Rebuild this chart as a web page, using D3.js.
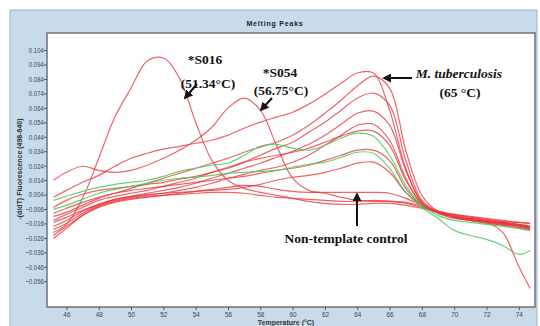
<!DOCTYPE html>
<html><head><meta charset="utf-8">
<script src="https://cdn.jsdelivr.net/npm/d3@7"></script>
<style>
html,body{margin:0;padding:0;background:#fff;}
svg{display:block;}
</style></head>
<body>
<script>
// ---- data ----
const temps = [45.2,46,47,48,49,50,51,52,53,54,55,56,57,58,59,60,61,62,63,64,65,66,67,68,69,70,71,72,73,74,74.7];
const xTicks = [46,48,50,52,54,56,58,60,62,64,66,68,70,72,74];
const yTicks = [0.104,0.094,0.084,0.074,0.064,0.054,0.044,0.034,0.024,0.014,0.004,-0.006,-0.016,-0.026,-0.036,-0.046,-0.056];

const s016 = [-0.0222,-0.0166,0.0014,0.0291,0.0576,0.0777,0.0964,0.0985,0.0846,0.0541,0.0277,0.0139,0.0083,0.0055,0.0035,0.0014,-0.0007,-0.0021,-0.0028,-0.0028,-0.0021,-0.0021,-0.0035,-0.0055,-0.0076,-0.0097,-0.0118,-0.0139,-0.0153,-0.0173,-0.0187];
const s054 = [0.0139,0.0194,0.0236,0.0208,0.0194,0.0208,0.0243,0.0291,0.0347,0.0416,0.0506,0.0638,0.0707,0.0624,0.0381,0.0153,0.0069,0.0049,0.0021,0,-0.0007,-0.0007,-0.0014,-0.0042,-0.0076,-0.0097,-0.0111,-0.0125,-0.0139,-0.0153,-0.0160];
const mtbA = [0.0021,0.0069,0.0125,0.0173,0.0236,0.0291,0.0326,0.0354,0.0374,0.0395,0.0416,0.0451,0.0499,0.0541,0.0576,0.0610,0.0666,0.0735,0.0811,0.0881,0.0881,0.0624,0.0222,-0.0014,-0.0083,-0.0111,-0.0125,-0.0139,-0.0153,-0.0166,-0.0180];
const mtbB = [-0.0111,-0.0083,-0.0035,0.0014,0.0049,0.0083,0.0118,0.0153,0.0187,0.0222,0.0257,0.0291,0.0333,0.0368,0.0402,0.0451,0.0520,0.0603,0.0693,0.0791,0.0860,0.0777,0.0347,0.0035,-0.0076,-0.0104,-0.0118,-0.0132,-0.0146,-0.0153,-0.0160];
const mtbC = [-0.0139,-0.0097,-0.0049,0,0.0028,0.0049,0.0069,0.0097,0.0125,0.0153,0.0194,0.0222,0.0264,0.0312,0.0361,0.0402,0.0472,0.0541,0.0624,0.0707,0.0742,0.0659,0.0277,0,-0.0076,-0.0111,-0.0132,-0.0153,-0.0166,-0.0180,-0.0194];
const mtbD = [-0.0180,-0.0139,-0.0076,-0.0028,0.0007,0.0028,0.0049,0.0069,0.0090,0.0118,0.0153,0.0187,0.0222,0.0257,0.0298,0.0340,0.0388,0.0451,0.0527,0.0603,0.0617,0.0520,0.0208,-0.0014,-0.0083,-0.0111,-0.0132,-0.0146,-0.0160,-0.0180,-0.0194];
const mtbE = [-0.0201,-0.0160,-0.0090,-0.0035,0,0.0021,0.0035,0.0049,0.0069,0.0090,0.0118,0.0153,0.0180,0.0208,0.0229,0.0264,0.0312,0.0381,0.0451,0.0520,0.0527,0.0416,0.0153,-0.0028,-0.0083,-0.0118,-0.0139,-0.0153,-0.0166,-0.0187,-0.0201];
const mtbF = [-0.0049,0,0.0042,0.0069,0.0083,0.0097,0.0111,0.0125,0.0146,0.0166,0.0194,0.0229,0.0264,0.0291,0.0312,0.0333,0.0361,0.0402,0.0444,0.0479,0.0479,0.0381,0.0139,-0.0021,-0.0083,-0.0111,-0.0132,-0.0146,-0.0160,-0.0173,-0.0187];
const mtbH = [-0.0090,-0.0055,-0.0014,0.0021,0.0049,0.0069,0.0083,0.0097,0.0111,0.0125,0.0139,0.0153,0.0166,0.0187,0.0208,0.0222,0.0243,0.0277,0.0312,0.0347,0.0347,0.0277,0.0083,-0.0035,-0.0090,-0.0125,-0.0139,-0.0153,-0.0222,-0.0458,-0.0610];
const mtbI = [-0.0153,-0.0118,-0.0069,-0.0028,0.0007,0.0028,0.0042,0.0049,0.0055,0.0062,0.0069,0.0076,0.0090,0.0111,0.0139,0.0160,0.0173,0.0194,0.0222,0.0257,0.0264,0.0194,0.0055,-0.0035,-0.0083,-0.0111,-0.0132,-0.0146,-0.0160,-0.0173,-0.0187];
const green1 = [0,0.0028,0.0062,0.0090,0.0111,0.0125,0.0139,0.0166,0.0201,0.0222,0.0243,0.0257,0.0312,0.0374,0.0388,0.0361,0.0347,0.0381,0.0430,0.0465,0.0444,0.0312,0.0104,-0.0035,-0.0104,-0.0139,-0.0153,-0.0166,-0.0180,-0.0194,-0.0208];
const green2 = [-0.0062,-0.0035,0.0007,0.0049,0.0076,0.0097,0.0118,0.0139,0.0153,0.0160,0.0173,0.0187,0.0194,0.0201,0.0208,0.0229,0.0250,0.0264,0.0298,0.0333,0.0326,0.0222,0.0055,-0.0049,-0.0125,-0.0208,-0.0243,-0.0270,-0.0312,-0.0374,-0.0347];
const ntc = [-0.0243,-0.0180,-0.0104,-0.0049,-0.0014,0.0007,0.0021,0.0035,0.0049,0.0062,0.0076,0.0090,0.0104,0.0097,0.0076,0.0062,0.0055,0.0055,0.0055,0.0055,0.0055,0.0049,0.0014,-0.0035,-0.0083,-0.0111,-0.0125,-0.0139,-0.0153,-0.0166,-0.0180];
const low2 = [-0.0264,-0.0194,-0.0104,-0.0042,-0.0007,0.0014,0.0028,0.0035,0.0042,0.0049,0.0055,0.0055,0.0049,0.0035,0.0021,0.0014,0.0007,0,-0.0007,-0.0007,0,-0.0007,-0.0021,-0.0049,-0.0083,-0.0118,-0.0139,-0.0160,-0.0173,-0.0194,-0.0208];

const redSeries = [ntc, low2, mtbI, mtbH, mtbF, mtbE, mtbD, mtbC, mtbB, mtbA, s054, s016];
const greenSeries = [green1, green2];

// ---- layout ----
const W = 540, H = 326;
const svg = d3.select("body").append("svg").attr("width", W).attr("height", H);

svg.append("rect").attr("x",10).attr("y",10).attr("width",527).attr("height",330)
  .attr("fill","#c8dbea").attr("stroke","#9fb6c9").attr("stroke-width",1);

svg.append("text").attr("x",275).attr("y",26).attr("text-anchor","middle")
  .attr("font-family","Liberation Sans, Arial, sans-serif").attr("font-weight","bold")
  .attr("font-size",7).attr("letter-spacing",0.8).attr("fill","#222").text("Melting Peaks");

const L = 47, R = 535, T = 33, B = 307;
const x = d3.scaleLinear().domain([44.8, 75]).range([L, R]);
const y = d3.scaleLinear().domain([-0.0738, 0.1158]).range([B, T]);

svg.append("rect").attr("x",L).attr("y",T).attr("width",R-L).attr("height",B-T).attr("fill","#fff");

svg.append("clipPath").attr("id","clip").append("rect")
  .attr("x",L).attr("y",T).attr("width",R-L).attr("height",B-T);

const line = d3.line().x((d,i)=>x(temps[i])).y(d=>y(d)).curve(d3.curveCatmullRom.alpha(0.5));
const g = svg.append("g").attr("clip-path","url(#clip)");
redSeries.forEach(s=>{
  g.append("path").attr("d", line(s)).attr("fill","none")
   .attr("stroke","#e8383f").attr("stroke-opacity",0.78).attr("stroke-width",1.2);
});
greenSeries.forEach(s=>{
  g.append("path").attr("d", line(s)).attr("fill","none")
   .attr("stroke","#4ccc5a").attr("stroke-opacity",0.85).attr("stroke-width",1.2);
});

svg.append("rect").attr("x",L).attr("y",T).attr("width",R-L).attr("height",B-T)
  .attr("fill","none").attr("stroke","#6f7478").attr("stroke-width",1.5);

const tickFont = "Liberation Sans, Arial, sans-serif";
const yAxis = svg.append("g").attr("transform",`translate(${L},0)`)
  .call(d3.axisLeft(y).tickValues(yTicks).tickSize(3).tickPadding(1).tickFormat(d3.format(".3f")));
yAxis.select(".domain").remove();
yAxis.selectAll("line").attr("stroke","#555");
yAxis.selectAll("text").attr("font-family",tickFont).attr("font-size",7.5).attr("fill","#444")
  .attr("transform","scale(0.8,1)");

const xAxis = svg.append("g").attr("transform",`translate(0,${B})`)
  .call(d3.axisBottom(x).tickValues(xTicks).tickSize(3).tickPadding(2).tickFormat(d3.format("d")));
xAxis.select(".domain").remove();
xAxis.selectAll("line").attr("stroke","#555");
xAxis.selectAll("text").attr("font-family",tickFont).attr("font-size",7.5).attr("fill","#444")
  .attr("transform","scale(0.85,1)");

svg.append("text").attr("transform","translate(22,169) rotate(-90)").attr("text-anchor","middle")
  .attr("font-family","Liberation Sans, Arial, sans-serif").attr("font-weight","bold")
  .attr("font-size",7).attr("fill","#333").text("-(d/dT) Fluorescence (498-640)");
svg.append("text").attr("x",286).attr("y",324.5).attr("text-anchor","middle")
  .attr("font-family","Liberation Sans, Arial, sans-serif").attr("font-weight","bold")
  .attr("font-size",7).attr("fill","#333").text("Temperature (°C)");

svg.append("defs").append("marker").attr("id","ah").attr("viewBox","0 0 10 10")
  .attr("refX",8).attr("refY",5).attr("markerWidth",4.5).attr("markerHeight",4.5)
  .attr("orient","auto").append("path").attr("d","M0,0 L10,5 L0,10 Z").attr("fill","#111");
const serif = "Liberation Serif, Times New Roman, serif";
function label(xp, yp, txt, italic){
  svg.append("text").attr("x",xp).attr("y",yp).attr("text-anchor","middle")
    .attr("font-family",serif).attr("font-weight","bold").attr("font-size",13.5)
    .attr("font-style", italic ? "italic" : "normal").attr("fill","#111").text(txt);
}
function arrow(x1,y1,x2,y2){
  svg.append("line").attr("x1",x1).attr("y1",y1).attr("x2",x2).attr("y2",y2)
    .attr("stroke","#111").attr("stroke-width",2).attr("marker-end","url(#ah)");
}
label(205,64,"*S016");
label(208,88,"(51.34°C)");
arrow(197,84,185,98);
label(280,77,"*S054");
label(281,95,"(56.75°C)");
arrow(272,98,261,110);
label(459,78,"M. tuberculosis", true);
label(460,97,"(65 °C)");
arrow(412,78,384,78);
label(346,243,"Non-template control");
arrow(357,226,357,194);
</script>
</body></html>
